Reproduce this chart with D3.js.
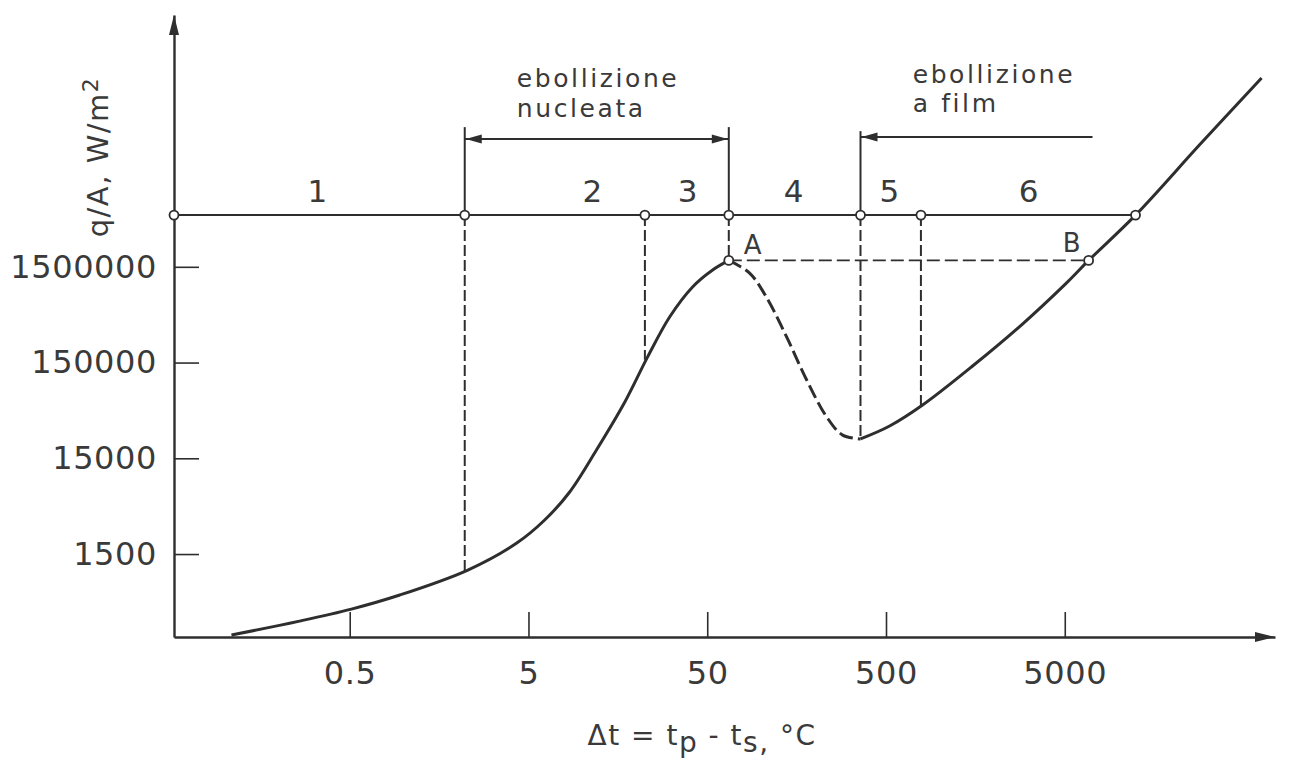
<!DOCTYPE html>
<html>
<head>
<meta charset="utf-8">
<style>
  html, body { margin: 0; padding: 0; background: #fff; }
  svg text { font-family: "DejaVu Sans", sans-serif; fill: #3a3a3a; }
</style>
</head>
<body>
<svg id="chart" width="1290" height="761"></svg>
<script src="https://cdn.jsdelivr.net/npm/d3@7"></script>
<script>
// axis ticks
var xTicks = [0.5, 5, 50, 500, 5000];
var yTicks = [1500, 15000, 150000, 1500000];

// boiling curve (dt in degC, q/A in W/m2)
// nucleate part (solid) up to the peak A
var nucleateDt = [0.109, 0.262, 0.511, 0.953, 2.29, 4.30, 6.16, 8.50, 12.0, 17.3, 23.2, 30.8, 41.4, 53.6, 66];
var nucleateQ  = [214, 299, 399, 560, 1021, 1954, 3400, 6670, 18300, 58100, 171800, 449000, 925000, 1390000, 1750000];
// transition part (dashed) from A to the minimum
var transDt = [66, 86.3, 107, 139, 180, 233, 286, 360];
var transQ  = [1750000, 1290000, 726000, 278000, 98600, 40500, 26200, 23900];
// film part (solid) from the minimum on
var filmDt = [360, 524, 801, 1525, 2900, 5120, 6800, 12440, 28400, 63100];
var filmQ  = [23900, 32600, 54000, 138000, 379000, 1020000, 1750000, 5200000, 28200000, 141000000];

// the regions line across the top
var lineQ = 5200000;
var boundaryDt = [0.052, 2.2, 22.4, 66, 360, 784, 12440];
// dashed drops from the regions line down to the curve
var dropDt = [2.2, 22.4, 66, 360, 784];
var dropQ  = [990, 160000, 1750000, 23900, 51000];
// region numbers
var regionNames = ["1", "2", "3", "4", "5", "6"];
var regionDt = [0.33, 11.4, 38.8, 152, 523, 3140];
// points A and B on the curve
var pointNames = ["A", "B"];
var pointDt = [66, 6800];
var pointQ  = [1750000, 1750000];

var ink = "#2e2e2e";
var svg = d3.select("svg#chart");

var x = d3.scaleLog().domain([0.052, 75000]).range([174, 1275]);
var y = d3.scaleLog().domain([204, 6.4e8]).range([637, 15]);

var lineY = y(lineQ);

// axes
svg.append("g")
    .attr("transform", "translate(0," + y.range()[0] + ")")
    .call(d3.axisBottom(x).tickValues(xTicks).tickFormat(function(d) { return String(d); })
        .tickSizeInner(-25).tickSizeOuter(0).tickPadding(24));
svg.append("g")
    .attr("transform", "translate(" + x.range()[0] + ",0)")
    .call(d3.axisLeft(y).tickValues(yTicks).tickFormat(function(d) { return String(d); })
        .tickSizeInner(-25).tickSizeOuter(0).tickPadding(17));

svg.selectAll(".domain").attr("stroke", ink).attr("stroke-width", 2.4);
svg.selectAll(".tick line").attr("stroke", ink).attr("stroke-width", 1.6);
svg.selectAll(".tick text").attr("font-size", 32).attr("letter-spacing", 0.6)
    .attr("fill", "#3a3a3a").attr("font-family", "DejaVu Sans, sans-serif");

// arrow heads on the axes
var x1 = x.range()[1], y0 = y.range()[0], x0 = x.range()[0], y1 = y.range()[1];
svg.append("path")
    .attr("d", "M" + x1 + "," + y0 + "L" + (x1 - 20) + "," + (y0 - 5) + "L" + (x1 - 20) + "," + (y0 + 5) + "Z")
    .attr("fill", ink);
svg.append("path")
    .attr("d", "M" + x0 + "," + y1 + "L" + (x0 - 5) + "," + (y1 + 20) + "L" + (x0 + 5) + "," + (y1 + 20) + "Z")
    .attr("fill", ink);

// axis titles
svg.append("text")
    .attr("transform", "translate(108,157) rotate(-90)")
    .attr("text-anchor", "middle")
    .attr("font-size", 29)
    .attr("letter-spacing", 1.5)
    .text("q/A, W/m")
  .append("tspan")
    .attr("dy", "-0.45em")
    .attr("font-size", 22)
    .text("2");

var xt = svg.append("text")
    .attr("x", 702).attr("y", 745)
    .attr("text-anchor", "middle")
    .attr("font-size", 28)
    .attr("letter-spacing", 1.5);
xt.append("tspan").text("Δt = t");
xt.append("tspan").attr("dy", "0.25em").text("p");
xt.append("tspan").attr("dy", "-0.25em").text(" - t");
xt.append("tspan").attr("dy", "0.25em").text("s,");
xt.append("tspan").attr("dy", "-0.25em").text(" °C");

// the boiling curve
var line = d3.line()
    .x(function(d) { return x(d[0]); })
    .y(function(d) { return y(d[1]); })
    .curve(d3.curveCatmullRom.alpha(0.5));

function pairs(a, b) { return a.map(function(v, i) { return [v, b[i]]; }); }

svg.append("path").attr("d", line(pairs(nucleateDt, nucleateQ)))
    .attr("fill", "none").attr("stroke", ink).attr("stroke-width", 3);
svg.append("path").attr("d", line(pairs(transDt, transQ)))
    .attr("fill", "none").attr("stroke", ink).attr("stroke-width", 3)
    .attr("stroke-dasharray", "14,5");
svg.append("path").attr("d", line(pairs(filmDt, filmQ)))
    .attr("fill", "none").attr("stroke", ink).attr("stroke-width", 3);

// regions line
svg.append("line")
    .attr("x1", x(boundaryDt[0])).attr("x2", x(boundaryDt[boundaryDt.length - 1]))
    .attr("y1", lineY).attr("y2", lineY)
    .attr("stroke", ink).attr("stroke-width", 2);

// dashed drops
svg.selectAll(".drop").data(dropDt).enter().append("line")
    .attr("class", "drop")
    .attr("x1", function(d) { return x(d); }).attr("x2", function(d) { return x(d); })
    .attr("y1", lineY).attr("y2", function(d, i) { return y(dropQ[i]); })
    .attr("stroke", ink).attr("stroke-width", 2)
    .attr("stroke-dasharray", "11,4");

// A - B dashed level
svg.append("line")
    .attr("x1", x(pointDt[0])).attr("x2", x(pointDt[1]))
    .attr("y1", y(pointQ[0])).attr("y2", y(pointQ[1]))
    .attr("stroke", ink).attr("stroke-width", 1.6)
    .attr("stroke-dasharray", "13,5");

// brackets above the regions line
var bx0 = x(boundaryDt[1]), bx1 = x(boundaryDt[3]), fx0 = x(boundaryDt[4]), fx1 = x(7150);
var brackets = svg.append("g").attr("stroke", ink).attr("stroke-width", 2);
brackets.append("line").attr("x1", bx0).attr("x2", bx0).attr("y1", lineY - 88).attr("y2", lineY);
brackets.append("line").attr("x1", bx1).attr("x2", bx1).attr("y1", lineY - 88).attr("y2", lineY);
brackets.append("line").attr("x1", bx0).attr("x2", bx1).attr("y1", lineY - 76).attr("y2", lineY - 76);
brackets.append("line").attr("x1", fx0).attr("x2", fx0).attr("y1", lineY - 84).attr("y2", lineY);
brackets.append("line").attr("x1", fx0).attr("x2", fx1).attr("y1", lineY - 78).attr("y2", lineY - 78);

function arrowHead(tipX, tipY, dir) {
    svg.append("path")
        .attr("d", "M" + tipX + "," + tipY + "L" + (tipX + dir * 16) + "," + (tipY - 4.5) +
            "L" + (tipX + dir * 16) + "," + (tipY + 4.5) + "Z")
        .attr("fill", ink);
}
arrowHead(bx0 + 1, lineY - 76, 1);
arrowHead(bx1 - 1, lineY - 76, -1);
arrowHead(fx0 + 1, lineY - 78, 1);

// annotation texts
var ann = svg.append("g").attr("font-size", 25).attr("letter-spacing", 2.6);
ann.append("text").attr("x", x(4.3)).attr("y", lineY - 128).text("ebollizione");
ann.append("text").attr("x", x(4.3)).attr("y", lineY - 98).text("nucleata");
ann.append("text").attr("x", x(705)).attr("y", lineY - 132).text("ebollizione");
ann.append("text").attr("x", x(705)).attr("y", lineY - 103).text("a film");

// region numbers
svg.selectAll(".region").data(regionNames).enter().append("text")
    .attr("class", "region")
    .attr("x", function(d, i) { return x(regionDt[i]); })
    .attr("y", lineY - 13)
    .attr("text-anchor", "middle")
    .attr("font-size", 31)
    .text(function(d) { return d; });

// A, B labels
svg.append("text").attr("x", x(pointDt[0]) + 15).attr("y", y(pointQ[0]) - 6)
    .attr("font-size", 26).text(pointNames[0]);
svg.append("text").attr("x", x(pointDt[1]) - 26).attr("y", y(pointQ[1]) - 8)
    .attr("font-size", 26).text(pointNames[1]);

// open circles
var circles = boundaryDt.map(function(d) { return [d, lineQ]; })
    .concat(pairs(pointDt, pointQ));
svg.selectAll(".pt").data(circles).enter().append("circle")
    .attr("class", "pt")
    .attr("cx", function(d) { return x(d[0]); })
    .attr("cy", function(d) { return y(d[1]); })
    .attr("r", 4.5)
    .attr("fill", "#fff").attr("stroke", ink).attr("stroke-width", 1.8);
</script>
</body>
</html>
